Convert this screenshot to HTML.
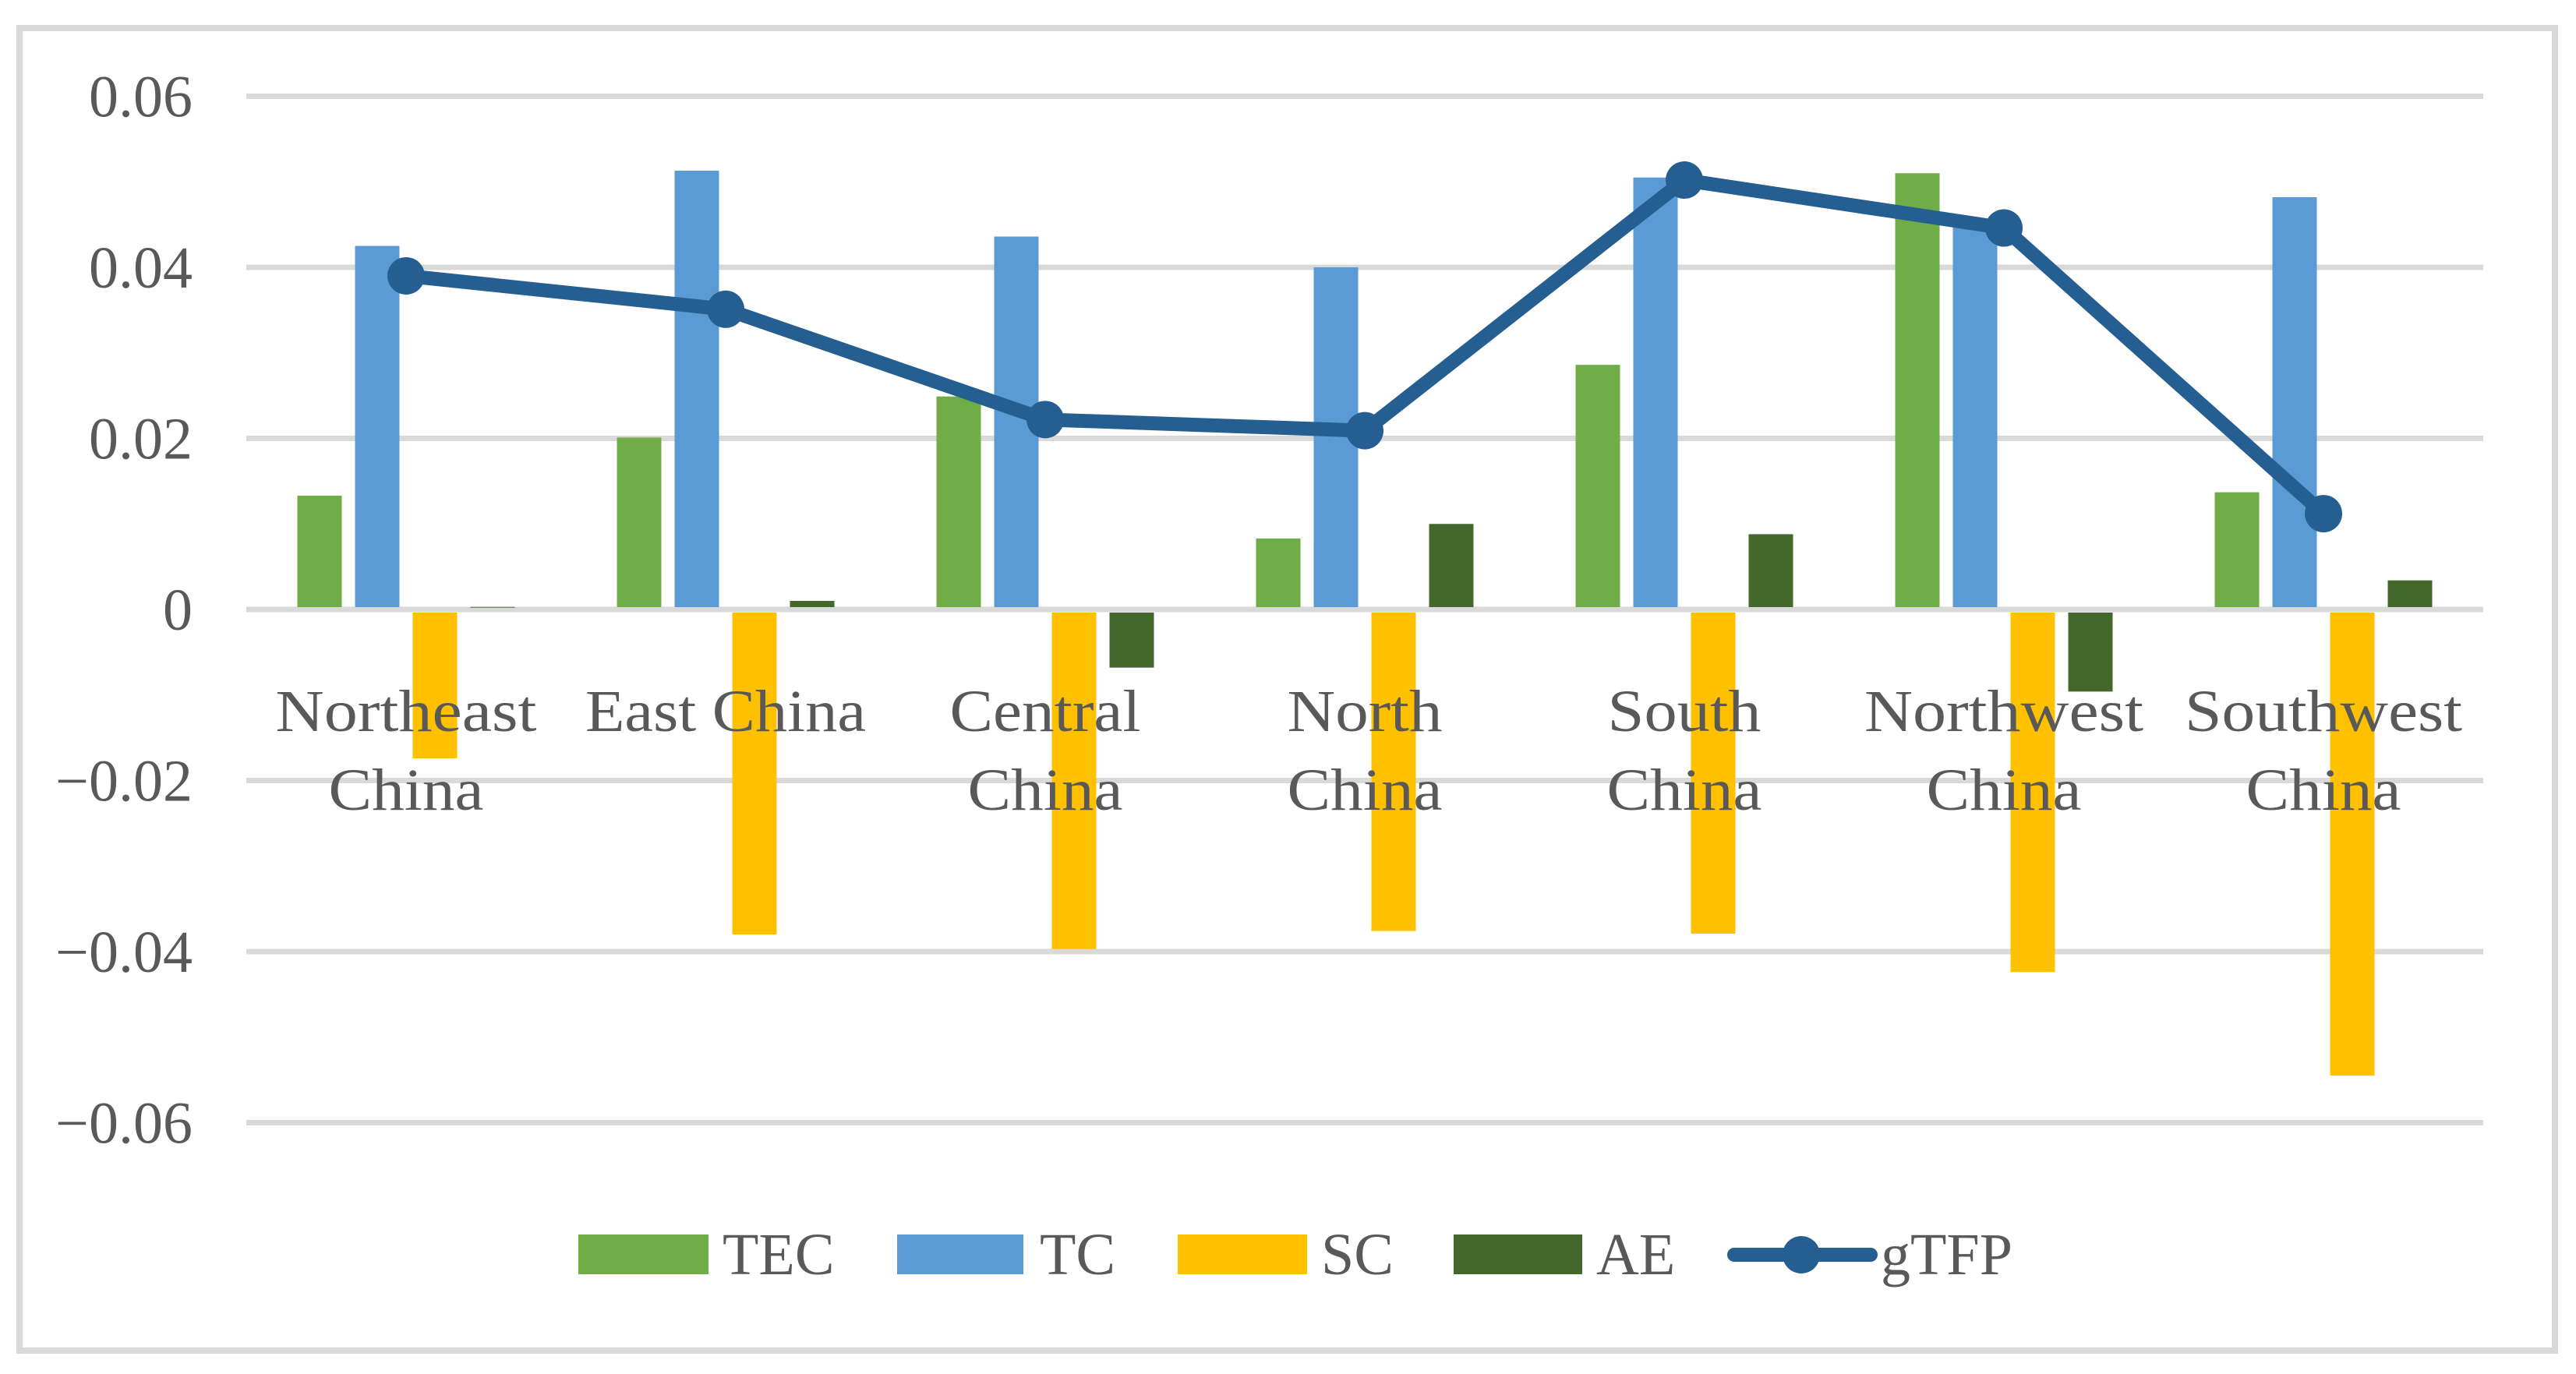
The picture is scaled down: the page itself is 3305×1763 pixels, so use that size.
<!DOCTYPE html>
<html><head><meta charset="utf-8"><style>
html,body{margin:0;padding:0;background:#fff;}
svg{display:block;}
text{font-family:"Liberation Serif",serif;fill:#595959;}
</style></head><body>
<svg id="chart" width="3305" height="1763" viewBox="0 0 3305 1763" xmlns="http://www.w3.org/2000/svg">
<rect x="25" y="36" width="3253" height="1697" fill="#fff" stroke="#d9d9d9" stroke-width="8"/>
<g id="grid"></g><g id="bars"></g><g id="line"></g><g id="labels"></g><g id="legend"></g>
</svg>
<script>
const categories = [["Northeast","China"],["East China"],["Central","China"],["North","China"],["South","China"],["Northwest","China"],["Southwest","China"]];
const seriesNames = ["TEC","TC","SC","AE"];
const tec = [0.0133,0.0201,0.0249,0.0083,0.0286,0.0510,0.0137];
const tc = [0.0425,0.0513,0.0436,0.0400,0.0505,0.0455,0.0482];
const sc = [-0.0174,-0.0380,-0.0397,-0.0376,-0.0379,-0.0424,-0.0545];
const ae = [0.0003,0.0010,-0.0068,0.0100,0.0088,-0.0096,0.0034];
const gtfp = [0.0390,0.0351,0.0222,0.0209,0.0502,0.0446,0.0112];
const yTicks = [0.06,0.04,0.02,0,-0.02,-0.04,-0.06];
const yTickLabels = ["0.06","0.04","0.02","0","\u22120.02","\u22120.04","\u22120.06"];
const colors = ["#70ad47","#5b9bd5","#ffc000","#43682b"];
const lineColor = "#255e91";

const NS="http://www.w3.org/2000/svg";
const plotL=316, plotR=3186, y0px=782, pxPerUnit=10975;
const catW=(plotR-plotL)/categories.length;
function y(v){return y0px - v*pxPerUnit;}
function xc(i){return plotL + catW*(i+0.5);}
function mk(tag,attrs,parent){const e=document.createElementNS(NS,tag);for(const k in attrs)e.setAttribute(k,attrs[k]);parent.appendChild(e);return e;}
const grid=document.getElementById('grid'),bars=document.getElementById('bars'),line=document.getElementById('line'),labels=document.getElementById('labels'),legend=document.getElementById('legend');

yTicks.forEach((t,i)=>{
  const g=mk('line',{x1:plotL,x2:plotR,y1:y(t),y2:y(t),stroke:'#d9d9d9','stroke-width':7},grid);
  
  
  const tx=mk('text',{x:247,y:y(t)+26,'text-anchor':'end','font-size':76},labels);
  tx.textContent=yTickLabels[i];
  
  
});

const all=[tec,tc,sc,ae];
const bw=57, step=74;
categories.forEach((c,i)=>{
  all.forEach((arr,s)=>{
    const v=arr[i];
    const bx=xc(i)-2*step+ (step-bw)/2 + s*step;
    const top=Math.min(y(v),y0px), h=Math.abs(y(v)-y0px);
    const r=mk('rect',{x:bx,y:v>=0?top:y0px+4,width:bw,height:Math.max(v>=0?h-3:h-4,1),fill:colors[s]},bars);
    
    
  });
});

const pts=gtfp.map((v,i)=>xc(i)+','+y(v)).join(' ');
const pl=mk('polyline',{points:pts,fill:'none',stroke:lineColor,'stroke-width':18,'stroke-linejoin':'round'},line);


gtfp.forEach((v,i)=>{
  const c=mk('circle',{cx:xc(i),cy:y(v),r:24,fill:lineColor},line);
  
  
});

const lblW={"Northeast":335,"China":199,"East China":360,"Central":245,"North":199,"South":197,"Northwest":358,"Southwest":356};
categories.forEach((c,i)=>{
  c.forEach((ln,k)=>{
    const t=mk('text',{x:xc(i),y:938+k*101,'text-anchor':'middle','font-size':76,textLength:lblW[ln],lengthAdjust:'spacingAndGlyphs'},labels);
    t.textContent=ln;
    
    
  });
});

const legItems=[[742,909,927,145],[1151,1313,1334,100],[1511,1677,1695,100],[1865,2030,2048,100]];
seriesNames.forEach((n,s)=>{
  const it=legItems[s];
  const r=mk('rect',{x:it[0],y:1584,width:it[1]-it[0],height:51,fill:colors[s]},legend);
  
  
  const t=mk('text',{x:it[2],y:1635,'font-size':76},legend);
  t.textContent=n;
  
  
});
const ll=mk('line',{x1:2225,x2:2400,y1:1610,y2:1610,stroke:lineColor,'stroke-width':18,'stroke-linecap':'round'},legend);


const lc=mk('circle',{cx:2311,cy:1610,r:24,fill:lineColor},legend);


const lt=mk('text',{x:2413,y:1635,'font-size':76},legend);
lt.textContent='gTFP';


</script>
</body></html>
